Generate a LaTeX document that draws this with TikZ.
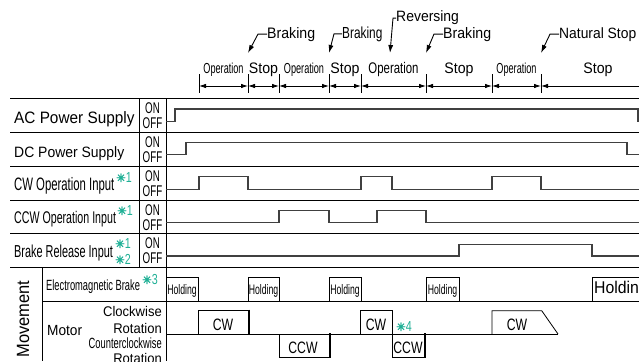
\documentclass[tikz,border=0pt]{standalone}
\usepackage{fontspec}
\setmainfont{Liberation Sans}
\newfontfamily\nrm[FakeStretch=0.93]{Liberation Sans}
\newfontfamily\cnd[FakeStretch=0.74]{Liberation Sans}
\newfontfamily\xcnd[FakeStretch=0.63]{Liberation Sans}
\newfontfamily\symf[FakeBold=2.5]{DejaVu Sans}
\usetikzlibrary{arrows.meta,calc}
\definecolor{notegreen}{RGB}{32,176,150}
\newcommand{\fs}[1]{\fontsize{#1}{#1}\selectfont}
\newcommand{\note}[1]{{\color{notegreen}\symf\fs{11.5}✳\cnd\fs{14.5}#1}}
\tikzset{
  grid/.style={line width=0.8pt},
  wave/.style={line width=1.1pt, draw=black!75},
  hold/.style={line width=0.8pt},
  bar/.style={line width=2.6pt},
  dim/.style={{Latex[length=7pt,width=4.5pt]}-{Latex[length=7pt,width=4.5pt]}, line width=0.8pt},
  leader/.style={-{Latex[length=8pt,width=5pt]}, line width=0.9pt},
  lbl/.style={anchor=base west, inner sep=0pt},
  rlbl/.style={anchor=base east, inner sep=0pt},
  mid/.style={anchor=base, inner sep=0pt}
}
\begin{document}
\begin{tikzpicture}[x=1pt,y=-1pt]
\useasboundingbox (0,0) rectangle (639,361);

% Time marks (top)
\foreach \n/\x in {1/199,2/248,3/279,4/329,5/361,6/426,7/492,8/541}
  \coordinate (t\n) at (\x,86);
\foreach \n in {1,...,8}
  \draw[grid] ($(t\n)+(0,-12)$) -- ($(t\n)+(0,7)$);
\draw[dim] (t1) -- (t2);
\draw[dim] (t2) -- (t3);
\draw[dim] (t3) -- (t4);
\draw[dim] (t4) -- (t5);
\draw[dim] (t5) -- (t6);
\draw[dim] (t6) -- (t7);
\draw[dim] (t7) -- (t8);
\coordinate (tend) at (639,86);
\draw[grid,{Latex[length=7pt,width=4.5pt]}-] (t8) -- (tend);

% Phase names
\node[mid,font=\xcnd\fs{14.5}] (op1) at ($(t1)!.5!(t2)+(0,-12)$) {Operation};
\node[mid,font=\nrm\fs{15.2}] (st1) at ($(t2)!.5!(t3)+(0,-12)$) {Stop};
\node[mid,font=\xcnd\fs{14.5}] (op2) at ($(t3)!.5!(t4)+(0,-12)$) {Operation};
\node[mid,font=\nrm\fs{15.2}] (st2) at ($(t4)!.5!(t5)+(0,-12)$) {Stop};
\node[mid,font=\cnd\fs{15.4}] (op3) at ($(t5)!.5!(t6)+(0,-12)$) {Operation};
\node[mid,font=\nrm\fs{15.2}] (st3) at ($(t6)!.5!(t7)+(0,-12)$) {Stop};
\node[mid,font=\xcnd\fs{14.5}] (op4) at ($(t7)!.5!(t8)+(0,-12)$) {Operation};
\node[mid,font=\nrm\fs{15.2}] (st4) at (598,74) {Stop};

% Events
\node[lbl,font=\nrm\fs{15.2}] (brk1) at (267,38) {Braking};
\node[lbl,font=\cnd\fs{16}] (brk2) at (342,38) {Braking};
\node[lbl,font=\nrm\fs{15}] (rev) at (396,22) {Reversing};
\node[lbl,font=\nrm\fs{15.2}] (brk3) at (443,38) {Braking};
\node[lbl,font=\nrm\fs{14.9}] (nst) at (559,38) {Natural Stop};
\coordinate (revpt) at (390,53);
\draw[leader] (brk1.west) -- ++(-9,0) -- ($(t2)+(0,-33)$);
\draw[leader] (brk2.west) -- ++(-8,0) -- ($(t4)+(0,-33)$);
\draw[leader] (rev.west) -- ++(-3,0) -- (revpt);
\draw[leader] (brk3.west) -- ++(-9,0) -- ($(t6)+(0,-33)$);
\draw[leader] (nst.west) -- ++(-9,0) -- ($(t8)+(0,-33)$);

% Table
\foreach \y in {98,132,166,200,233,267}
  \draw[grid] (10,\y) -- (639,\y);
\draw[grid] (42,301) -- (639,301);
\draw[grid] (139,98) -- (139,267);
\draw[grid] (166,98) -- (166,361);
\draw[grid] (42,267) -- (42,361);

% Signal names
\node[lbl,font=\nrm\fs{16.5}] (ac) at (14,123) {AC Power Supply};
\node[lbl,font=\nrm\fs{15}] (dc) at (14,157) {DC Power Supply};
\node[lbl,font=\xcnd\fs{18}] (cwin) at (14,190) {CW Operation Input};
\node[lbl,font=\xcnd\fs{16.9}] (ccwin) at (14,223) {CCW Operation Input};
\node[lbl,font=\xcnd\fs{17.3}] (brin) at (14,257) {Brake Release Input};
\node[lbl] (n1a) at (116,182) {\note{1}};
\node[lbl] (n1b) at (117,215) {\note{1}};
\node[lbl] (n1c) at (115,248) {\note{1}};
\node[lbl] (n2) at (115,264) {\note{2}};
\foreach \y in {98,132,166,200,233} {
  \node[mid,font=\xcnd\fs{15.5}] (on\y) at (152.5,\y+15) {ON};
  \node[mid,font=\xcnd\fs{15.5}] (off\y) at (152.5,\y+30.5) {OFF};
}

% Movement
\node[font=\nrm\fs{17.7},rotate=90,inner sep=0pt] (mov) at (23,319) {Movement};
\node[lbl,font=\xcnd\fs{14.8}] (emb) at (46,290) {Electromagnetic Brake};
\node[lbl] (n3) at (142,284) {\note{3}};
\node[lbl,font=\nrm\fs{14.7}] (mot) at (47,335) {Motor};
\node[rlbl,font=\nrm\fs{14}] (cwr1) at (162,316) {Clockwise};
\node[rlbl,font=\nrm\fs{14}] (cwr2) at (162,333) {Rotation};
\node[rlbl,font=\xcnd\fs{14.8}] (ccwr1) at (162,348) {Counterclockwise};
\node[rlbl,font=\nrm\fs{14}] (ccwr2) at (162,363) {Rotation};

% Signals
\draw[wave] (166,121.7) -| (175,109) -- (638,109) -- (638,121.7);
\draw[wave] (166,154.3) -| (186,142.3) -| (627,154.3) -- (639,154.3);
\draw[wave] (166,189.3) -| (199,176.7) -| (248,189.3) -| (361,176.7) -| (392,189.3)
  -| (492,176.7) -| (541,189.3) -- (639,189.3);
\draw[wave] (166,222.7) -| (279,210.3) -| (329,222.7) -| (377,210.3) -| (426,222.7) -- (639,222.7);
\draw[wave] (166,256) -| (459,244.3) -| (592,256) -- (639,256);

% Brake holding
\foreach \a/\b in {166/198,248/279,329/361,426/459} {
  \draw[hold] (\a,301) -- (\a,277) -- (\b,277) -- (\b,301);
  \node[mid,font=\xcnd\fs{13.8}] (hold\a) at (\a/2+\b/2,294) {Holding};
}
\draw[hold] (592,301) -- (592,277) -- (640,277);
\node[lbl,font=\nrm\fs{17}] (hold592) at (594,293) {Holding};

% Motor rotation
\draw[hold] (166,334) -- (558,334);
\draw[hold] (198,334) -- (198,310.7) -- (249,310.7);
\draw[bar] (249,309.5) -- (249,334);
\draw[hold] (360,334) -- (360,310.7) -- (392,310.7) -- (392,357) -- (425,357);
\draw[bar] (425,333) -- (425,358.2);
\draw[hold] (279,334) -- (279,357) -- (330,357);
\draw[bar] (330,333) -- (330,358.2);
\draw[hold] (492,334) -- (492,310.7) -- (541.7,310.7) -- (558,334);
\node[mid,font=\cnd\fs{16.5}] (cw1) at (223,330) {CW};
\node[mid,font=\cnd\fs{16.5}] (cw2) at (376,330) {CW};
\node[mid,font=\cnd\fs{16.5}] (cw3) at (517,330) {CW};
\node[mid,font=\cnd\fs{16.5}] (ccw1) at (303,353) {CCW};
\node[mid,font=\cnd\fs{16.5}] (ccw2) at (408,353) {CCW};
\node[lbl] (n4) at (396,331) {\note{4}};
\end{tikzpicture}
\end{document}
